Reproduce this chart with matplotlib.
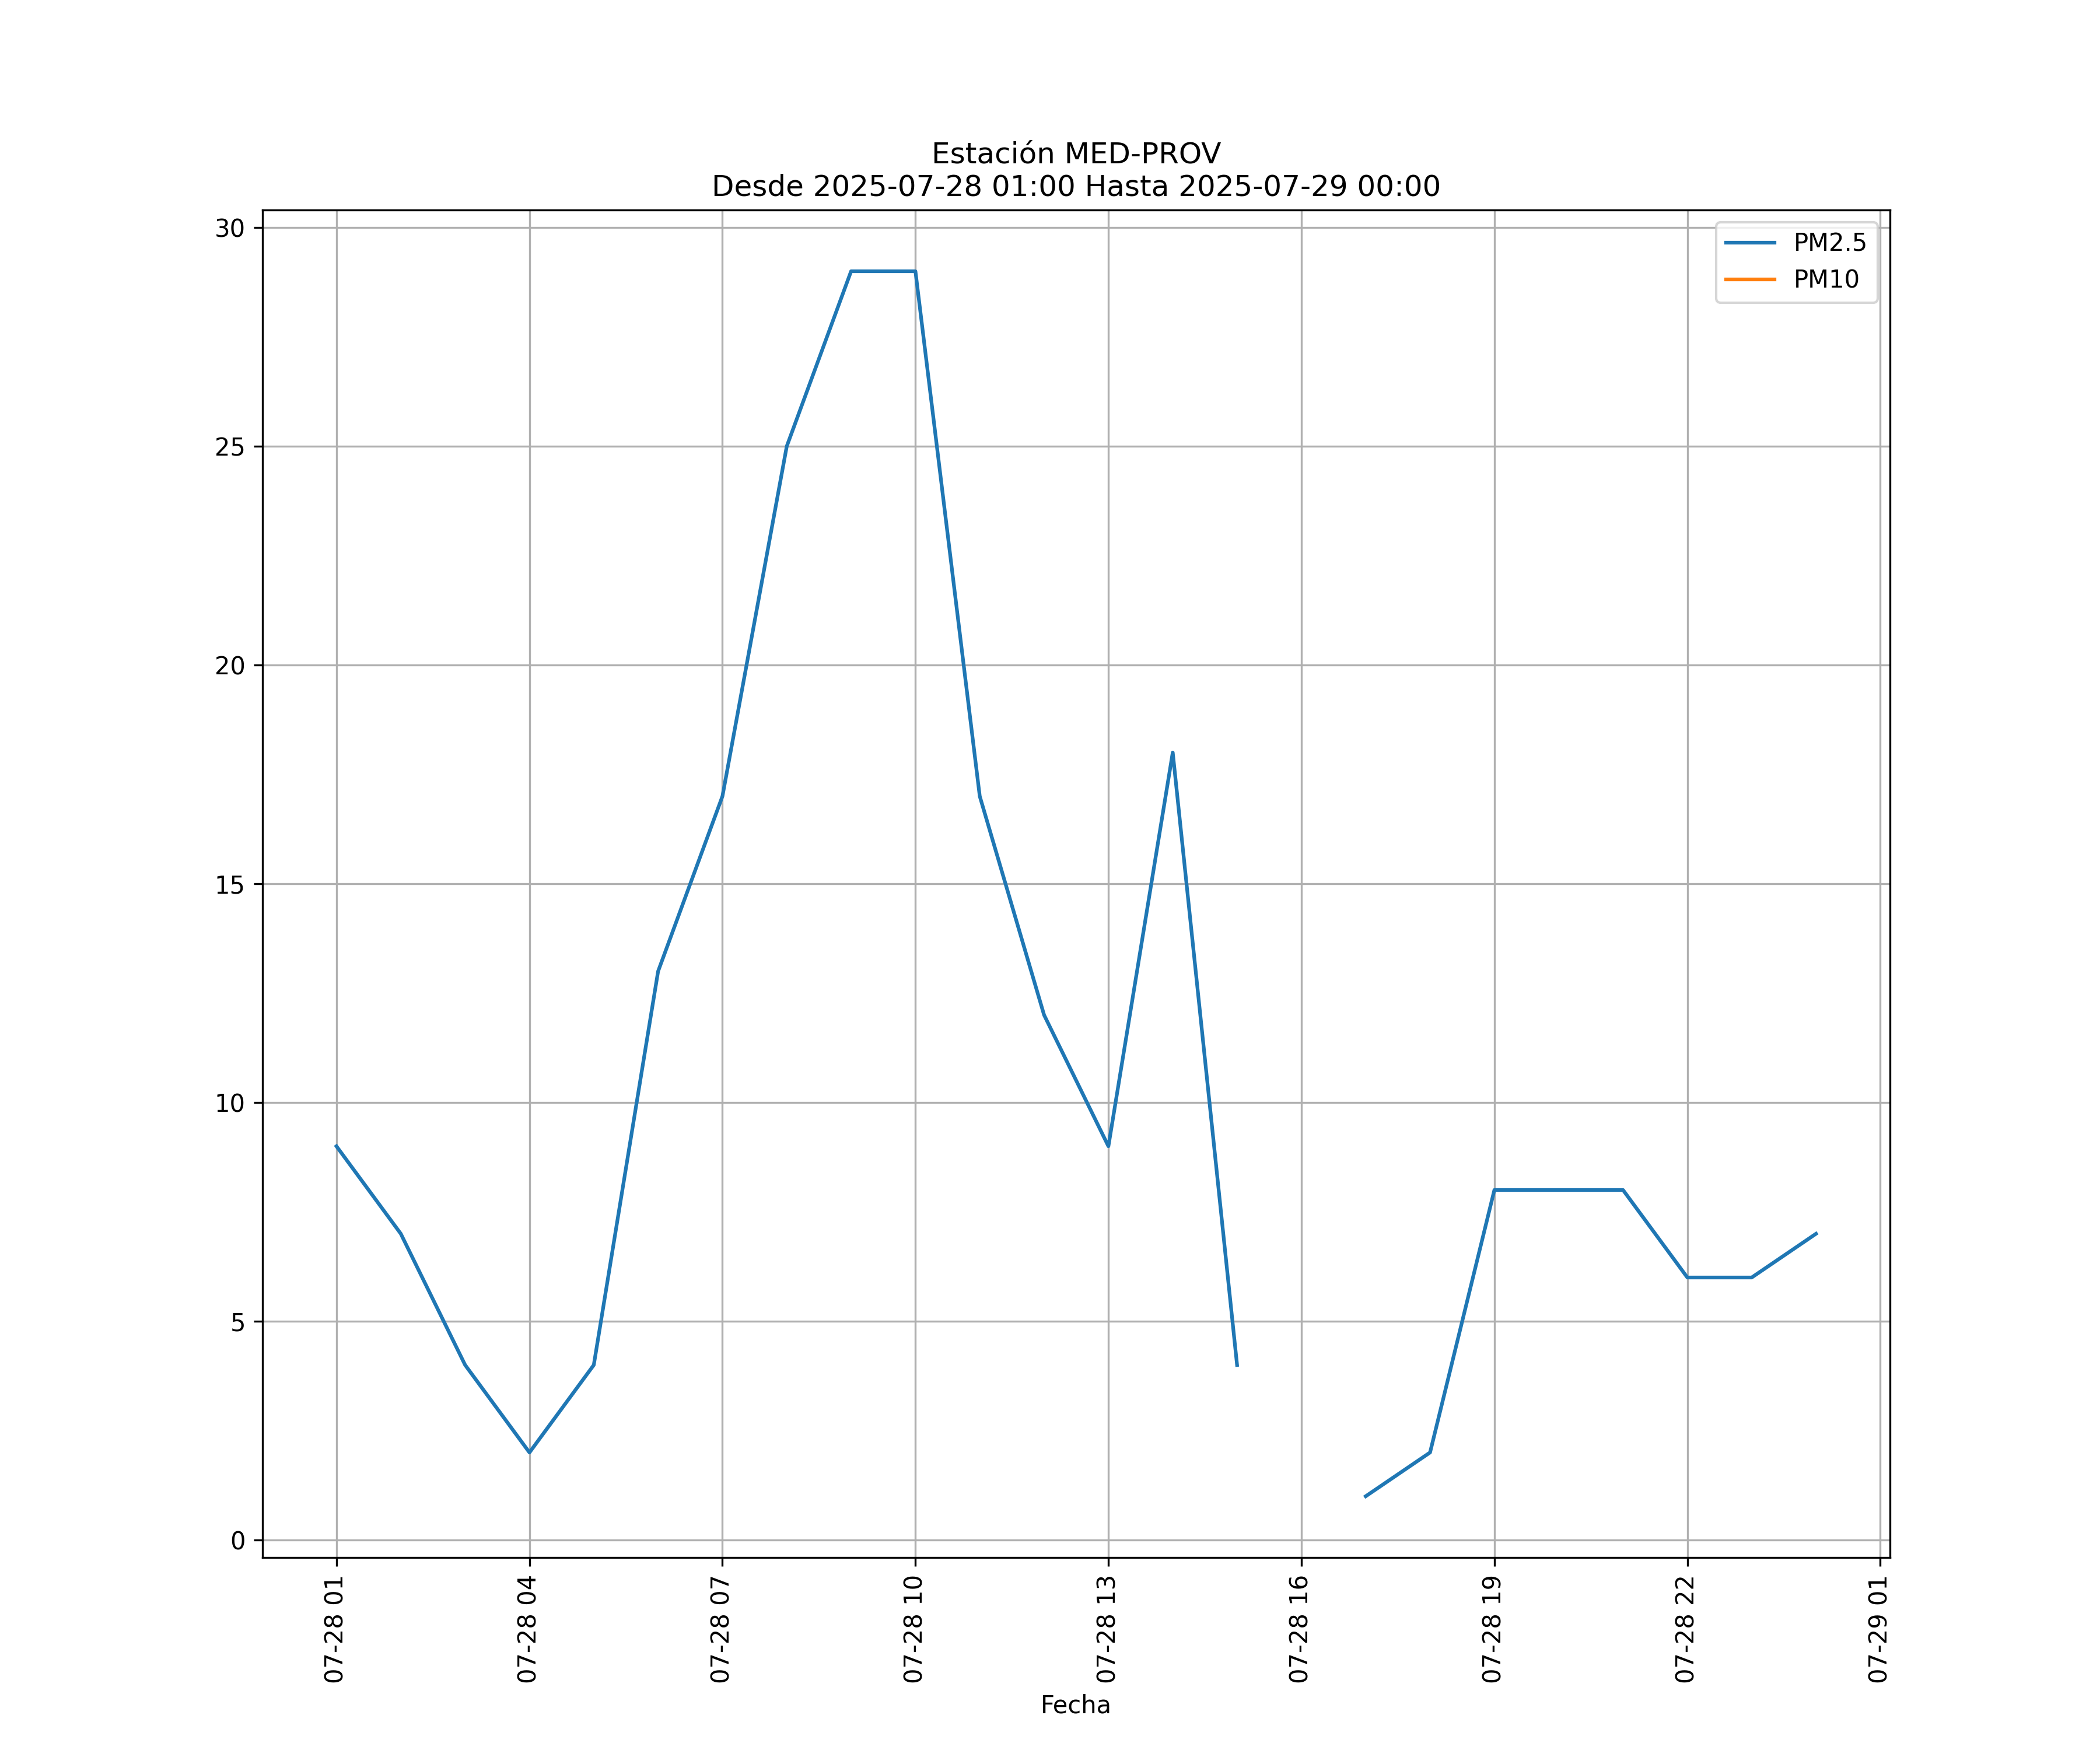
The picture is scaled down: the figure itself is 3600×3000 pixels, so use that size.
import matplotlib
matplotlib.use("Agg")
import matplotlib.pyplot as plt
import matplotlib.dates as mdates
import numpy as np
import pandas as pd

times = pd.date_range("2025-07-28 01:00", "2025-07-29 00:00", freq="h")
pm25 = [9, 7, 4, 2, 4, 13, 17, 25, 29, 29, 17, 12, 9, 18, 4, np.nan,
        1, 2, 8, 8, 8, 6, 6, 7]
pm10 = [np.nan] * 24

fig, ax = plt.subplots(figsize=(12, 10))
ax.plot(times, pm25, label="PM2.5")
ax.plot(times, pm10, label="PM10")
ax.set_title("Estación MED-PROV\nDesde 2025-07-28 01:00 Hasta 2025-07-29 00:00")
ax.set_xlabel("Fecha")
ax.xaxis.set_major_locator(mdates.HourLocator(byhour=range(1, 24, 3)))
ax.xaxis.set_major_formatter(mdates.DateFormatter("%m-%d %H"))
plt.setp(ax.get_xticklabels(), rotation=90)
ax.grid(True)
ax.legend(loc="upper right")
fig.savefig("out.png", dpi=300)
